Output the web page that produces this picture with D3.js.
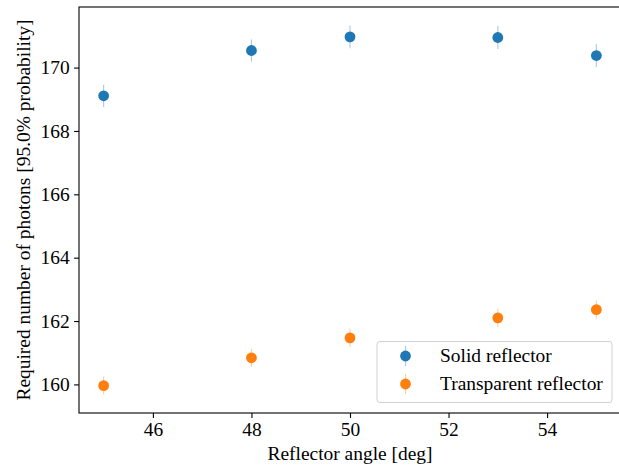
<!DOCTYPE html>
<html>
<head>
<meta charset="utf-8">
<script src="https://cdn.jsdelivr.net/npm/d3@7"></script>
<style>
  html, body { margin: 0; padding: 0; background: #fff; }
  svg { display: block; }
  text { font-family: "Liberation Serif", "Times New Roman", serif; fill: #000; }
</style>
</head>
<body>
<svg id="chart" width="619" height="466"></svg>
<script>
// ---- data ----
const angles = [45, 48, 50, 53, 55];
const solidValues = [169.11, 170.54, 170.97, 170.95, 170.38];
const solidErrors = [0.35, 0.35, 0.36, 0.36, 0.36];
const transparentValues = [159.96, 160.84, 161.47, 162.10, 162.36];
const transparentErrors = [0.28, 0.28, 0.29, 0.29, 0.29];
const seriesNames = ["Solid reflector", "Transparent reflector"];
const seriesColors = ["#1f77b4", "#ff7f0e"];
const xTicks = [46, 48, 50, 52, 54];
const yTicks = [160, 162, 164, 166, 168, 170];
const xLabel = "Reflector angle [deg]";
const yLabel = "Required number of photons [95.0% probability]";

// ---- layout ----
const m = { left: 79, right: 621, top: 7, bottom: 413 };
const svg = d3.select("#chart");

const series = [
  { name: seriesNames[0], color: seriesColors[0], vals: solidValues, errs: solidErrors },
  { name: seriesNames[1], color: seriesColors[1], vals: transparentValues, errs: transparentErrors }
];

// domains like matplotlib: data limits + 5% margins
const xmin = d3.min(angles), xmax = d3.max(angles);
const xpad = (xmax - xmin) * 0.05;
let ylo = Infinity, yhi = -Infinity;
series.forEach(s => s.vals.forEach((v, i) => {
  ylo = Math.min(ylo, v - s.errs[i]);
  yhi = Math.max(yhi, v + s.errs[i]);
}));
const ypad = (yhi - ylo) * 0.05;

const x = d3.scaleLinear().domain([xmin - xpad, xmax + xpad]).range([m.left, m.right]);
const y = d3.scaleLinear().domain([ylo - ypad, yhi + ypad]).range([m.bottom, m.top]);

// points with error bars
const plot = svg.append("g");
series.forEach(s => {
  const g = plot.append("g");
  g.selectAll("line.err").data(s.vals).join("line")
    .attr("x1", (d, i) => x(angles[i])).attr("x2", (d, i) => x(angles[i]))
    .attr("y1", (d, i) => y(d - s.errs[i])).attr("y2", (d, i) => y(d + s.errs[i]))
    .attr("stroke", s.color).attr("stroke-opacity", 0.4).attr("stroke-width", 1.1);
  g.selectAll("circle").data(s.vals).join("circle")
    .attr("cx", (d, i) => x(angles[i])).attr("cy", d => y(d))
    .attr("r", 5.4).attr("fill", s.color);
});

// axes
const fs = "19.44px";
const xAxis = svg.append("g").attr("transform", `translate(0,${m.bottom})`)
  .call(d3.axisBottom(x).tickValues(xTicks).tickFormat(d3.format("d")).tickSizeOuter(0).tickSize(4.9).tickPadding(4.5));
const yAxis = svg.append("g").attr("transform", `translate(${m.left},0)`)
  .call(d3.axisLeft(y).tickValues(yTicks).tickFormat(d3.format("d")).tickSizeOuter(0).tickSize(4.9).tickPadding(4.5));
[xAxis, yAxis].forEach(a => {
  a.select(".domain").remove();
  a.selectAll(".tick line").attr("stroke", "#000").attr("stroke-width", 1.1);
  a.selectAll(".tick text").attr("font-size", fs).attr("font-family", "Liberation Serif").attr("fill", "#000");
});

// spines
svg.append("rect")
  .attr("x", m.left).attr("y", m.top)
  .attr("width", m.right - m.left).attr("height", m.bottom - m.top)
  .attr("fill", "none").attr("stroke", "#000").attr("stroke-width", 1.1);

// axis labels
svg.append("text")
  .attr("x", (m.left + m.right) / 2).attr("y", 460)
  .attr("text-anchor", "middle").attr("font-size", fs)
  .text(xLabel);
svg.append("text")
  .attr("transform", `translate(30,${(m.top + m.bottom) / 2}) rotate(-90)`)
  .attr("text-anchor", "middle").attr("font-size", fs)
  .text(yLabel);

// legend
const lg = svg.append("g");
lg.append("rect")
  .attr("x", 377).attr("y", 341.5).attr("width", 235).attr("height", 61)
  .attr("rx", 3).attr("fill", "#fff").attr("fill-opacity", 0.8)
  .attr("stroke", "#d0d0d0").attr("stroke-width", 1);
series.forEach((s, i) => {
  const cy = 356 + i * 28;
  lg.append("line").attr("x1", 405.5).attr("x2", 405.5)
    .attr("y1", cy - 10).attr("y2", cy + 10)
    .attr("stroke", s.color).attr("stroke-opacity", 0.4).attr("stroke-width", 1.1);
  lg.append("circle").attr("cx", 405.5).attr("cy", cy).attr("r", 5.4).attr("fill", s.color);
  lg.append("text").attr("x", 440).attr("y", cy).attr("dy", "0.33em")
    .attr("font-size", fs).text(s.name);
});
</script>
</body>
</html>
